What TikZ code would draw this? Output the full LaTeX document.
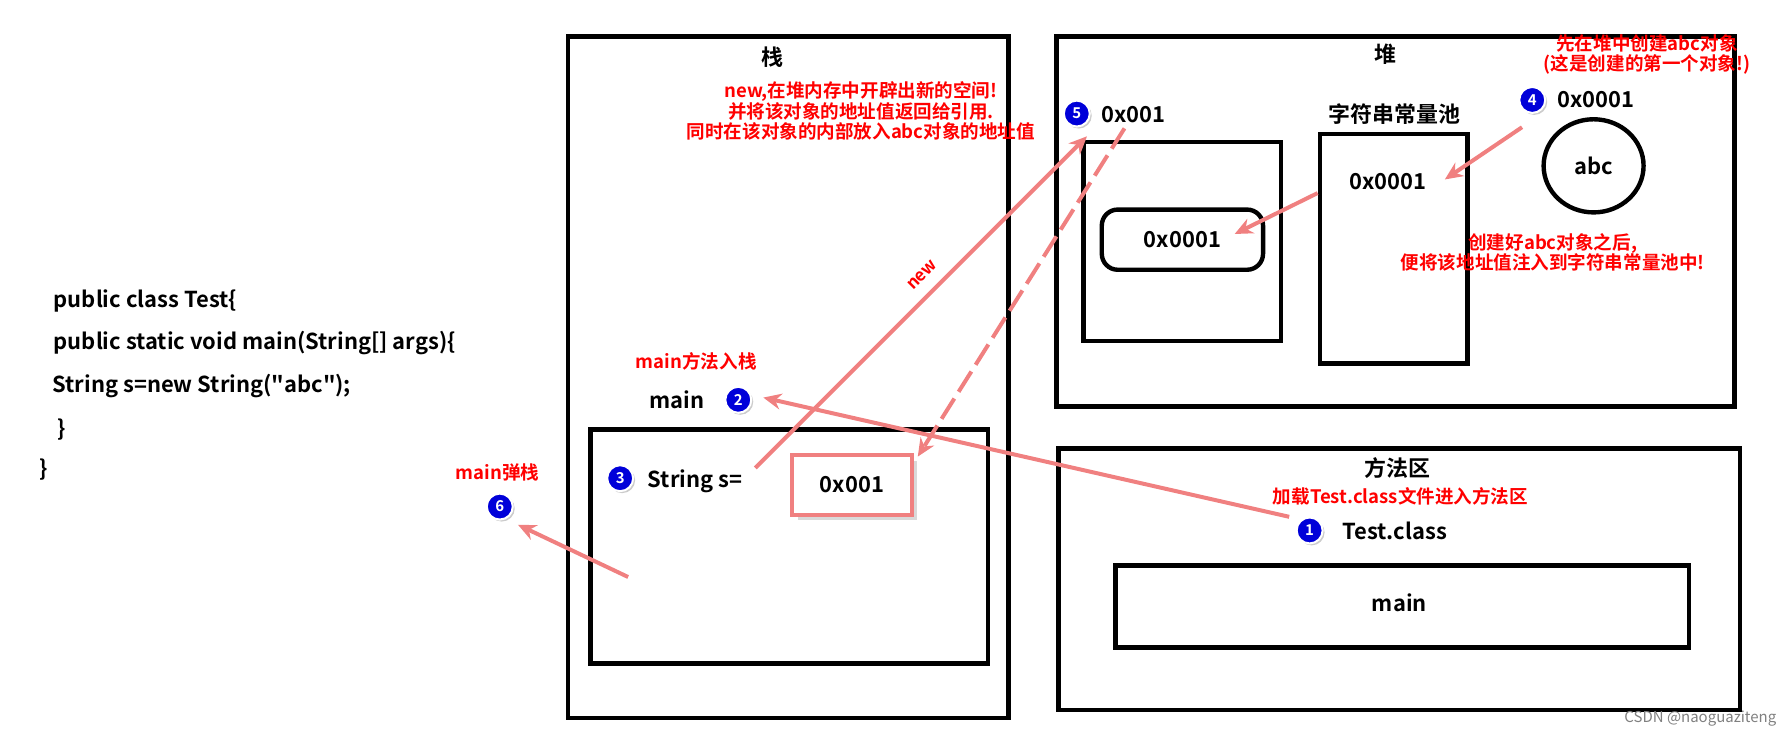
\documentclass[tikz,border=0pt]{standalone}
\usepackage{fontspec}
\setmainfont{Noto Sans CJK SC}[BoldFont={* Bold},Ligatures=TeXReset]
\usetikzlibrary{arrows.meta,shadows}
\definecolor{arr}{HTML}{F08080}
\tikzset{
 box/.style={draw,line width=2.2pt},
 lbl/.style={font=\bfseries\fontsize{11}{13}\selectfont,inner sep=1pt},
 red/.style={text=red,font=\bfseries\fontsize{9.3}{10.3}\selectfont,align=center,inner sep=1pt},
 badge/.style={circle,fill=blue!85!black,draw=white,line width=1pt,text=white,font=\bfseries\fontsize{7.5}{7.5}\selectfont,inner sep=0pt,minimum size=13pt,drop shadow={opacity=0.4,shadow xshift=1pt,shadow yshift=-1pt}},
 conn/.style={draw=arr,line width=2pt,-{Stealth[length=9pt,width=8pt]}},
 code/.style={font=\bfseries\fontsize{11}{13}\selectfont,anchor=west,inner sep=0pt}
}
\begin{document}
\begin{tikzpicture}[x=0.02cm,y=-0.02cm]
\useasboundingbox (0,0) rectangle (1568,652);
% code
\node[code] (c1) at (47,265) {public class Test\{};
\node[code] (c2) at (47,302) {public static void main(String[] args)\{};
\node[code] (c3) at (46,340) {String s=new String("abc");};
\node[code] (c4) at (50,378) {\}};
\node[code] (c5) at (34,413) {\}};
% stack
\draw[box] (500,32) rectangle (888,632);
\node[lbl] (stk) at (680,50) {栈};
\draw[box] (520,378) rectangle (870,584);
\node[red] (mr) at (613,318) {main方法入栈};
\node[lbl] (main) at (596,352) {main};
\node[badge] (b2) at (650,352) {2};
\node[badge] (b3) at (546,421) {3};
\node[lbl] (ss) at (612,424) {String s=};
\node[draw=arr,line width=2pt,fill=white,drop shadow={opacity=0.3},lbl,minimum width=2.1cm,minimum height=1.04cm] (ref) at (750,427) {0x001};
\node[red] (tip) at (758,98) {new,在堆内存中开辟出新的空间!\\并将该对象的地址值返回给引用.\\同时在该对象的内部放入abc对象的地址值};
% heap
\draw[box] (930,32) rectangle (1527,358);
\node[lbl] (heap) at (1220,48) {堆};
\draw[box] (954,125) rectangle (1128,300);
\node[draw,line width=2.2pt,rounded corners=8pt,minimum width=2.84cm,minimum height=1.06cm,lbl] (inner) at (1041,211) {0x0001};
\node[badge] (b5) at (948,100) {5};
\node[lbl] (o1) at (998,101) {0x001};
\node[lbl] (poolt) at (1228,100) {字符串常量池};
\draw[box] (1162,118) rectangle (1292,320);
\node[lbl] (pv) at (1222,160) {0x0001};
\node[badge] (b4) at (1349,88) {4};
\node[lbl] (o4) at (1405,88) {0x0001};
\draw[line width=2.2pt] (1403,146) ellipse (44 and 41);
\node[lbl] (abc) at (1403,146) {abc};
\node[red] (t4) at (1450,48) {先在堆中创建abc对象\\(这是创建的第一个对象!)};
\node[red] (t5) at (1367,222) {创建好abc对象之后,\\便将该地址值注入到字符串常量池中!};
% method area
\draw[box] (932,395) rectangle (1532,625);
\node[lbl] (ma) at (1230,412) {方法区};
\node[red] (t1) at (1233,437) {加载Test.class文件进入方法区};
\node[badge] (b1) at (1153,467) {1};
\node[lbl] (tc) at (1228,467) {Test.class};
\draw[box] (982,498) rectangle (1487,570);
\node[lbl] (mm) at (1232,531) {main};
% pop
\node[red] (pop) at (438,416) {main弹栈};
\node[badge] (b6) at (440,446) {6};
% connectors
\coordinate (a1) at (1135,455);
\coordinate (a2) at (672,350);
\draw[conn] (a1) -- (a2);
\coordinate (s1) at (665,412);
\coordinate (s2) at (957,120);
\draw[conn] (s1) -- (s2);
\node[red,rotate=45,font=\bfseries\fontsize{8.5}{8.5}\selectfont] (nw) at (812,242) {new};
\coordinate (d1) at (990,113);
\coordinate (d2) at (808,402);
\draw[conn,dash pattern=on 12pt off 4pt] (d1) -- (d2);
\coordinate (p1) at (1340,112);
\coordinate (p2) at (1272,158);
\draw[conn] (p1) -- (p2);
\coordinate (q1) at (1160,170);
\coordinate (q2) at (1087,206);
\draw[conn] (q1) -- (q2);
\coordinate (e1) at (553,508);
\coordinate (e2) at (456,462);
\draw[conn] (e1) -- (e2);
\node[text=gray,font=\fontsize{7.5}{8}\selectfont] (wm) at (1497,633) {CSDN @naoguaziteng};
\end{tikzpicture}
\end{document}
